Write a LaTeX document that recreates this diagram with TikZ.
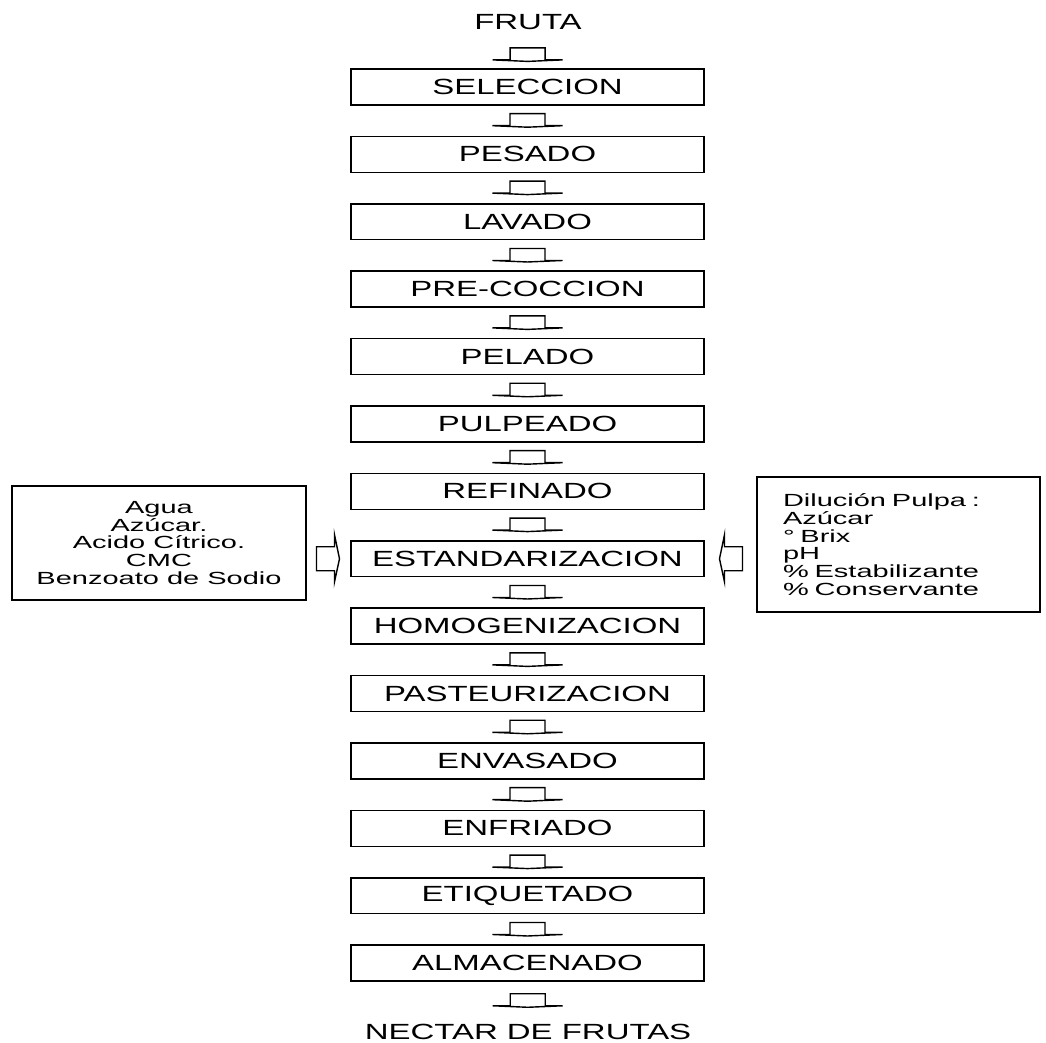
\documentclass[tikz,border=0pt]{standalone}
\usepackage{fontspec}
\setmainfont{Liberation Sans}[FakeStretch=1.5]
\newfontfamily\ladofont{Liberation Sans}[FakeStretch=1.65]
\usetikzlibrary{calc}

\tikzset{
  etapa/.style={draw, line width=0.8pt, minimum width=7.06cm, minimum height=0.72cm, inner sep=0pt, font=\fontsize{12.5}{15}\selectfont},
  extremo/.style={inner sep=0pt, font=\fontsize{12.5}{15}\selectfont},
  lado/.style={draw, line width=0.8pt, inner sep=0pt, font=\ladofont\fontsize{10}{10.1}\selectfont},
  flechab/.pic={\draw[line width=0.8pt] (-17.5,-7) -- (17.5,-7) -- (17.5,5) -- (35,5) -- (0,6.5) -- (-35,5) -- (-17.5,5) -- cycle;},
  flechal/.pic={\draw[line width=0.8pt] (-12,-12) -- (6,-12) -- (6,-24) -- (11,0) -- (6,23) -- (6,12) -- (-12,12) -- cycle;},
}

\begin{document}
\begin{tikzpicture}[x=0.02cm, y=-0.02cm]
    \useasboundingbox (0,0) rectangle (1046,1043);
    \node[extremo] (fruta) at (528,22) {FRUTA};
    \foreach \t [count=\i] in {SELECCION, PESADO, LAVADO, PRE-COCCION, PELADO, PULPEADO, REFINADO,
        ESTANDARIZACION, HOMOGENIZACION, PASTEURIZACION, ENVASADO, ENFRIADO, ETIQUETADO, ALMACENADO}
        \node[etapa] (p\i) at (527.5, {87+67.4*(\i-1)}) {\t};
    \node[extremo] (nectar) at (528,1032) {NECTAR DE FRUTAS};

    % flechas del proceso
    \path ($(fruta.south)!.65!(p1.north)$) pic{flechab};
    \foreach \i [evaluate=\i as \j using int(\i+1)] in {1,...,13}
        \path ($(p\i.south)!.5!(p\j.north)$) pic{flechab};
    \path ($(p14.south)!.45!(nectar.north)$) pic{flechab};

    % insumos y controles
    \node[lado, minimum width=5.88cm, minimum height=2.28cm, align=center] (izq) at (159,543)
        {Agua\\Azúcar.\\Acido Cítrico.\\CMC\\Benzoato de Sodio};
    \node[lado, minimum width=5.66cm, minimum height=2.7cm, text width=4.62cm, align=left] (der) at (898.5,544.5)
        {Dilución Pulpa :\\Azúcar\\° Brix\\pH\\\% Estabilizante\\\% Conservante};
    \path ($(izq.east |- p8.west)!.5!(p8.west)$) pic{flechal};
    \path ($(p8.east)!.5!(der.west |- p8.east)$) pic[xscale=-1]{flechal};
\end{tikzpicture}
\end{document}
